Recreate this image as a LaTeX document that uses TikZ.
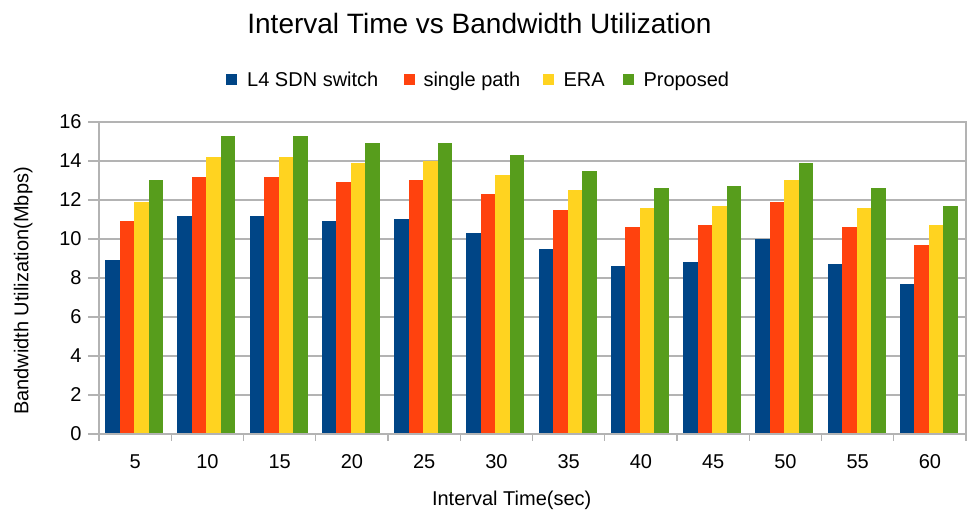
\documentclass[tikz,border=0pt]{standalone}
\usepackage{fontspec}
\setmainfont{Liberation Sans}

\definecolor{l4blue}{RGB}{0,69,134}
\definecolor{singlered}{RGB}{255,66,14}
\definecolor{erayellow}{RGB}{255,211,32}
\definecolor{propgreen}{RGB}{87,157,28}
\definecolor{gridgray}{RGB}{179,179,179}

\tikzset{every picture/.style={line width=0.75pt}}
\tikzset{
	l4bar/.style={draw opacity=0, fill=l4blue},
	singlebar/.style={draw opacity=0, fill=singlered},
	erabar/.style={draw opacity=0, fill=erayellow},
	propbar/.style={draw opacity=0, fill=propgreen},
	gridline/.style={color=gridgray, line width=1.1pt},
	lbl/.style={inner sep=0pt, font=\fontsize{15}{18}\selectfont},
	ttl/.style={inner sep=0pt, font=\fontsize{21}{25}\selectfont}}

\begin{document}
\begin{tikzpicture}[x=0.75pt,y=0.75pt,yscale=-1,xscale=1]
	\useasboundingbox (0,0) rectangle (971,516);

	%Straight Lines: grid
	\draw [gridline] (88,434) -- (966,434) ;
	\draw [gridline] (88,395) -- (966,395) ;
	\draw [gridline] (88,356) -- (966,356) ;
	\draw [gridline] (88,317) -- (966,317) ;
	\draw [gridline] (88,278) -- (966,278) ;
	\draw [gridline] (88,239) -- (966,239) ;
	\draw [gridline] (88,200) -- (966,200) ;
	\draw [gridline] (88,161) -- (966,161) ;
	\draw [gridline] (88,122) -- (966,122) ;

	%Shape: Rectangle [5]
	\draw [l4bar] (105,434) rectangle (119.5,260.45) ;
	\draw [singlebar] (119.5,434) rectangle (134,221.45) ;
	\draw [erabar] (134,434) rectangle (148.5,201.95) ;
	\draw [propbar] (148.5,434) rectangle (163,180.5) ;
	%Shape: Rectangle [10]
	\draw [l4bar] (177.25,434) rectangle (191.75,215.6) ;
	\draw [singlebar] (191.75,434) rectangle (206.25,176.6) ;
	\draw [erabar] (206.25,434) rectangle (220.75,157.1) ;
	\draw [propbar] (220.75,434) rectangle (235.25,135.65) ;
	%Shape: Rectangle [15]
	\draw [l4bar] (249.5,434) rectangle (264,215.6) ;
	\draw [singlebar] (264,434) rectangle (278.5,176.6) ;
	\draw [erabar] (278.5,434) rectangle (293,157.1) ;
	\draw [propbar] (293,434) rectangle (307.5,135.65) ;
	%Shape: Rectangle [20]
	\draw [l4bar] (321.75,434) rectangle (336.25,221.45) ;
	\draw [singlebar] (336.25,434) rectangle (350.75,182.45) ;
	\draw [erabar] (350.75,434) rectangle (365.25,162.95) ;
	\draw [propbar] (365.25,434) rectangle (379.75,143.45) ;
	%Shape: Rectangle [25]
	\draw [l4bar] (394,434) rectangle (408.5,219.5) ;
	\draw [singlebar] (408.5,434) rectangle (423,180.5) ;
	\draw [erabar] (423,434) rectangle (437.5,161) ;
	\draw [propbar] (437.5,434) rectangle (452,143.45) ;
	%Shape: Rectangle [30]
	\draw [l4bar] (466.25,434) rectangle (480.75,233.15) ;
	\draw [singlebar] (480.75,434) rectangle (495.25,194.15) ;
	\draw [erabar] (495.25,434) rectangle (509.75,174.65) ;
	\draw [propbar] (509.75,434) rectangle (524.25,155.15) ;
	%Shape: Rectangle [35]
	\draw [l4bar] (538.5,434) rectangle (553,248.75) ;
	\draw [singlebar] (553,434) rectangle (567.5,209.75) ;
	\draw [erabar] (567.5,434) rectangle (582,190.25) ;
	\draw [propbar] (582,434) rectangle (596.5,170.75) ;
	%Shape: Rectangle [40]
	\draw [l4bar] (610.75,434) rectangle (625.25,266.3) ;
	\draw [singlebar] (625.25,434) rectangle (639.75,227.3) ;
	\draw [erabar] (639.75,434) rectangle (654.25,207.8) ;
	\draw [propbar] (654.25,434) rectangle (668.75,188.3) ;
	%Shape: Rectangle [45]
	\draw [l4bar] (683,434) rectangle (697.5,262.4) ;
	\draw [singlebar] (697.5,434) rectangle (712,225.35) ;
	\draw [erabar] (712,434) rectangle (726.5,205.85) ;
	\draw [propbar] (726.5,434) rectangle (741,186.35) ;
	%Shape: Rectangle [50]
	\draw [l4bar] (755.25,434) rectangle (769.75,239) ;
	\draw [singlebar] (769.75,434) rectangle (784.25,201.95) ;
	\draw [erabar] (784.25,434) rectangle (798.75,180.5) ;
	\draw [propbar] (798.75,434) rectangle (813.25,162.95) ;
	%Shape: Rectangle [55]
	\draw [l4bar] (827.5,434) rectangle (842,264.35) ;
	\draw [singlebar] (842,434) rectangle (856.5,227.3) ;
	\draw [erabar] (856.5,434) rectangle (871,207.8) ;
	\draw [propbar] (871,434) rectangle (885.5,188.3) ;
	%Shape: Rectangle [60]
	\draw [l4bar] (899.75,434) rectangle (914.25,283.85) ;
	\draw [singlebar] (914.25,434) rectangle (928.75,244.85) ;
	\draw [erabar] (928.75,434) rectangle (943.25,225.35) ;
	\draw [propbar] (943.25,434) rectangle (957.75,205.85) ;

	%Shape: Rectangle: plot frame
	\draw [gridline] (99,122) rectangle (966,434) ;
	%Straight Lines: x ticks
	\draw [gridline] (99,434) -- (99,441) (171.25,434) -- (171.25,441) (243.5,434) -- (243.5,441) (315.75,434) -- (315.75,441) (388,434) -- (388,441) (460.25,434) -- (460.25,441) (532.5,434) -- (532.5,441) (604.75,434) -- (604.75,441) (677,434) -- (677,441) (749.25,434) -- (749.25,441) (821.5,434) -- (821.5,441) (893.75,434) -- (893.75,441) (966,434) -- (966,441) ;

	%Shape: Square: legend keys
	\draw [l4bar] (226,74) rectangle (237,85) ;
	\draw [singlebar] (404,74) rectangle (415,85) ;
	\draw [erabar] (543,74) rectangle (554,85) ;
	\draw [propbar] (623,74) rectangle (634,85) ;

	% Text Node
	\draw (479.5,33.3) node [ttl, anchor=base] (title) {Interval Time vs Bandwidth Utilization};
	% Text Node
	\draw (246.7,86.7) node [lbl, anchor=base west] (legl4) {L4 SDN switch};
	% Text Node
	\draw (423,86.7) node [lbl, anchor=base west] (legsingle) {single path};
	% Text Node
	\draw (563,86.7) node [lbl, anchor=base west] (legera) {ERA};
	% Text Node
	\draw (643,86.7) node [lbl, anchor=base west] (legprop) {Proposed};
	% Text Node
	\draw (28.5,291) node [lbl, anchor=base, rotate=90] (ylabel) {Bandwidth Utilization(Mbps)};
	% Text Node
	\draw (511.7,505) node [lbl, anchor=base] (xlabel) {Interval Time(sec)};

	% Text Node: y ticks
	\draw (82,434) node [lbl, anchor=east] (y0) {0};
	\draw (82,395) node [lbl, anchor=east] (y2) {2};
	\draw (82,356) node [lbl, anchor=east] (y4) {4};
	\draw (82,317) node [lbl, anchor=east] (y6) {6};
	\draw (82,278) node [lbl, anchor=east] (y8) {8};
	\draw (82,239) node [lbl, anchor=east] (y10) {10};
	\draw (82,200) node [lbl, anchor=east] (y12) {12};
	\draw (82,161) node [lbl, anchor=east] (y14) {14};
	\draw (82,122) node [lbl, anchor=east] (y16) {16};

	% Text Node: x ticks
	\draw (135.13,468.3) node [lbl, anchor=base] (x5) {5};
	\draw (207.38,468.3) node [lbl, anchor=base] (x10) {10};
	\draw (279.63,468.3) node [lbl, anchor=base] (x15) {15};
	\draw (351.88,468.3) node [lbl, anchor=base] (x20) {20};
	\draw (424.13,468.3) node [lbl, anchor=base] (x25) {25};
	\draw (496.38,468.3) node [lbl, anchor=base] (x30) {30};
	\draw (568.63,468.3) node [lbl, anchor=base] (x35) {35};
	\draw (640.88,468.3) node [lbl, anchor=base] (x40) {40};
	\draw (713.13,468.3) node [lbl, anchor=base] (x45) {45};
	\draw (785.38,468.3) node [lbl, anchor=base] (x50) {50};
	\draw (857.63,468.3) node [lbl, anchor=base] (x55) {55};
	\draw (929.88,468.3) node [lbl, anchor=base] (x60) {60};

\end{tikzpicture}
\end{document}
